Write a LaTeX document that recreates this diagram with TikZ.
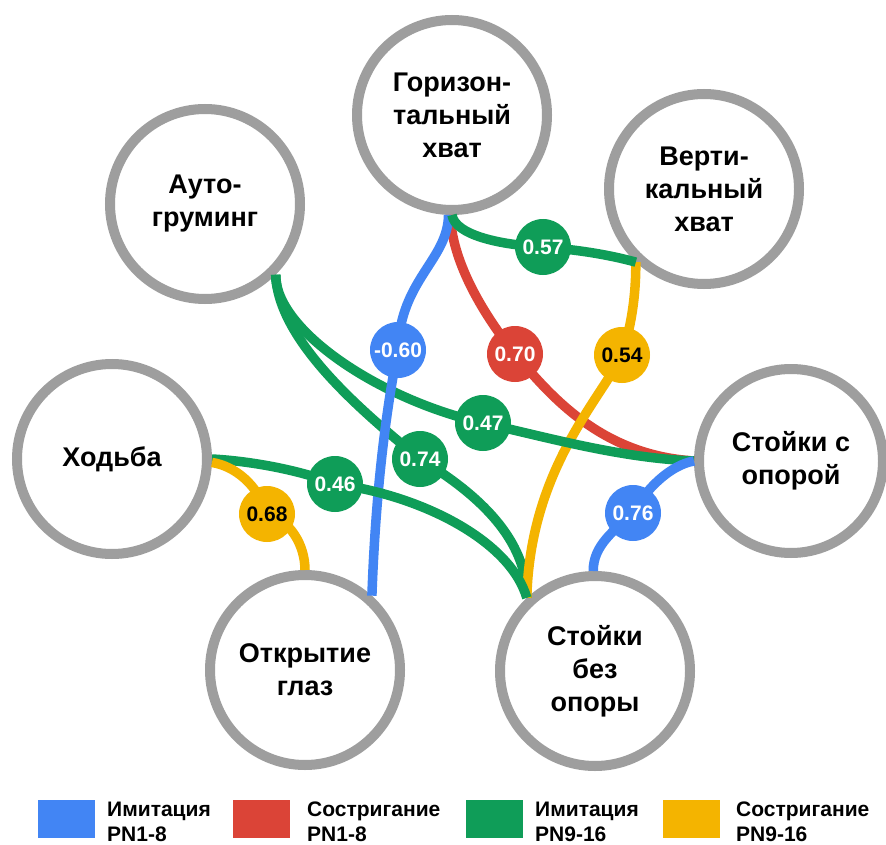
\documentclass[tikz,border=0pt]{standalone}
\usepackage{fontspec}
\setmainfont{Liberation Sans}
\definecolor{cblue}{HTML}{4285F4}
\definecolor{cred}{HTML}{DB4437}
\definecolor{cgreen}{HTML}{0F9D58}
\definecolor{cyellow}{HTML}{F4B400}
\definecolor{cgray}{HTML}{9E9E9E}
\begin{document}
\begin{tikzpicture}[x=1pt,y=-1pt,
  bubble/.style={circle,draw=cgray,line width=10pt,fill=white,minimum size=190pt,inner sep=0pt,align=center,font=\fontsize{27}{33}\selectfont\bfseries},
  conn/.style={line width=9.5pt},
  lab/.style={circle,minimum size=56pt,inner sep=0pt,font=\fontsize{21}{24}\selectfont\bfseries,text=white},
  keybox/.style={minimum width=57pt,minimum height=38pt,inner sep=0pt},
  keytext/.style={anchor=west,align=left,font=\fontsize{21}{25}\selectfont\bfseries,inner sep=0pt}]
\useasboundingbox[fill=white] (0,0) rectangle (886,845);

% states
\node[bubble] (hor) at (452,115) {Горизон-\\тальный\\хват};
\node[bubble] (auto) at (205,204) {Ауто-\\груминг};
\node[bubble] (vert) at (704,189) {Верти-\\кальный\\хват};
\node[bubble] (walk) at (112,459) {Ходьба};
\node[bubble,minimum size=184pt] (swith) at (791,461) {Стойки с\\опорой};
\node[bubble] (eyes) at (305,670) {Открытие\\глаз};
\node[bubble] (nosup) at (595,671) {Стойки\\без\\опоры};

% label positions
\coordinate (l60) at (398,350);
\coordinate (l70) at (515,354);
\coordinate (l57) at (543,247);
\coordinate (l54) at (622,355);
\coordinate (l47) at (483,423);
\coordinate (l74) at (420,459);
\coordinate (l46) at (335,484);
\coordinate (l68) at (267,514);
\coordinate (l76) at (633,513);

% connectors
\draw[conn,cgreen] (auto.-45) .. controls (278,340) and (360,410) .. (l74)
  .. controls (480,495) and (527,540) .. (nosup.133);
\draw[conn,cred] (hor.-91) .. controls (452,260) and (480,310) .. (l70)
  .. controls (550,395) and (600,455) .. (swith.180);
\draw[conn,cyellow] (vert.-133) .. controls (636,300) and (630,330) .. (l54)
  .. controls (600,400) and (530,470) .. (nosup.133);
\draw[conn,cgreen] (auto.-45) .. controls (275,330) and (380,400) .. (l47)
  .. controls (550,438) and (620,458) .. (swith.180);
\draw[conn,cblue] (hor.-92) .. controls (448,260) and (400,280) .. (l60)
  .. controls (388,400) and (376,480) .. (eyes.48);
\draw[conn,cgreen] (walk.0) .. controls (250,461) and (300,470) .. (l46)
  .. controls (420,495) and (510,540) .. (nosup.133);
\draw[conn,cgreen] (hor.-90) .. controls (455,235) and (500,245) .. (l57)
  .. controls (580,250) and (610,255) .. (vert.-133);
\draw[conn,cyellow] (walk.-2) .. controls (235,466) and (258,485) .. (l68)
  .. controls (290,520) and (305,545) .. (eyes.90);
\draw[conn,cblue] (swith.180) .. controls (670,465) and (645,490) .. (l76)
  .. controls (615,530) and (593,545) .. (nosup.91);

% labels
\node[lab,fill=cblue] (n60) at (l60) {-0.60};
\node[lab,fill=cred] (n70) at (l70) {0.70};
\node[lab,fill=cgreen] (n57) at (l57) {0.57};
\node[lab,fill=cyellow,text=black] (n54) at (l54) {0.54};
\node[lab,fill=cgreen] (n47) at (l47) {0.47};
\node[lab,fill=cgreen] (n74) at (l74) {0.74};
\node[lab,fill=cgreen] (n46) at (l46) {0.46};
\node[lab,fill=cyellow,text=black] (n68) at (l68) {0.68};
\node[lab,fill=cblue] (n76) at (l76) {0.76};

% legend
\node[keybox,fill=cblue] (k1) at (66.5,819) {};
\node[keytext] (t1) at (107,822) {Имитация\\PN1-8};
\node[keybox,fill=cred] (k2) at (261.5,819) {};
\node[keytext] (t2) at (307,822) {Состригание\\PN1-8};
\node[keybox,fill=cgreen] (k3) at (494.5,819) {};
\node[keytext] (t3) at (535,822) {Имитация\\PN9-16};
\node[keybox,fill=cyellow] (k4) at (691.5,819) {};
\node[keytext] (t4) at (736,822) {Состригание\\PN9-16};
\end{tikzpicture}
\end{document}
